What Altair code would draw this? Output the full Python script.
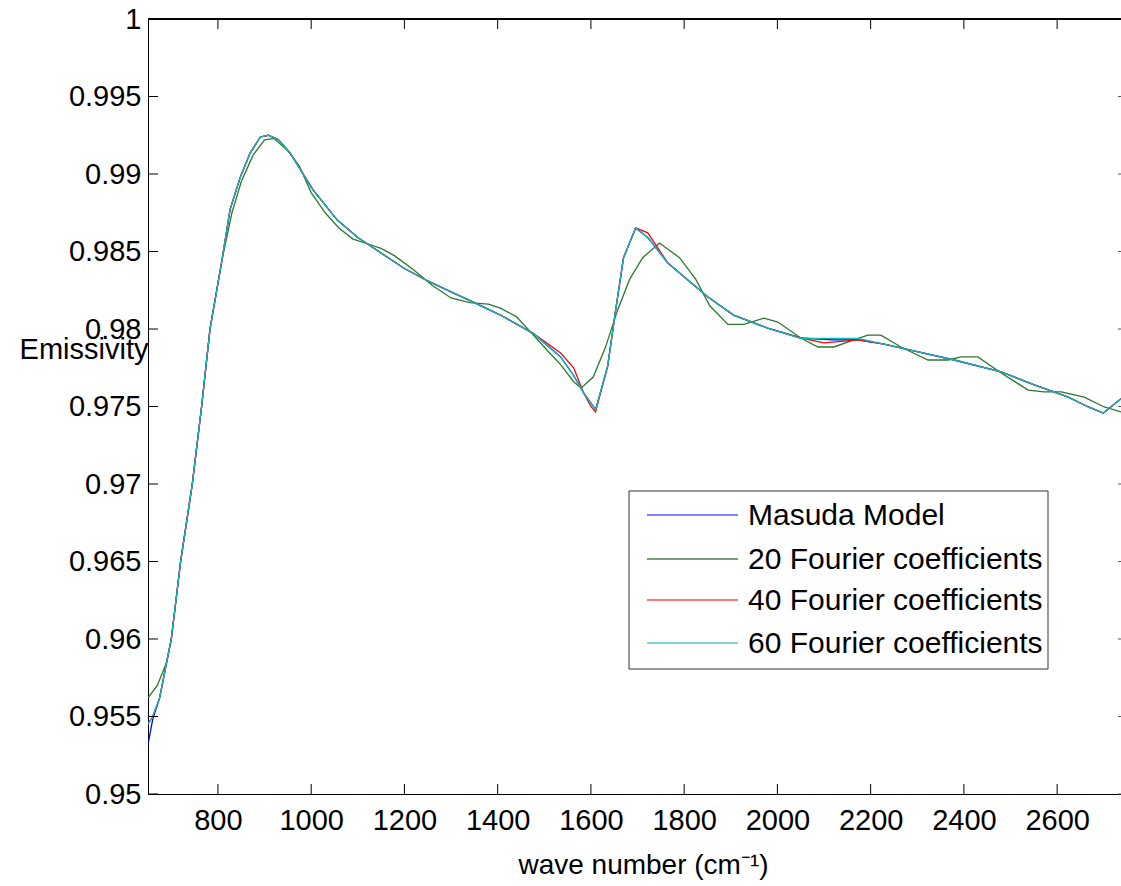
import altair as alt
import pandas as pd

# ---- data ----
masuda_x = [650, 660, 675, 690, 700, 720, 745, 765, 783, 809, 826, 848, 869, 891, 908, 930, 955,
            1004, 1056, 1100, 1150, 1200, 1250, 1300, 1350, 1406, 1477, 1535, 1563, 1584, 1610,
            1636, 1653, 1670, 1696, 1722, 1765, 1808, 1851, 1906, 1979, 2050, 2120, 2173, 2229,
            2302, 2379, 2480, 2551, 2624, 2667, 2699, 2737]
masuda_y = [0.9532, 0.9548, 0.9562, 0.9585, 0.9600, 0.9650, 0.9700, 0.9750, 0.9800, 0.9845, 0.9877,
            0.9898, 0.99135, 0.99239, 0.9925, 0.9922, 0.99135, 0.98897, 0.98703, 0.9859, 0.9849,
            0.9839, 0.9831, 0.9824, 0.9817, 0.9809, 0.9797, 0.9782, 0.9770, 0.9759, 0.9748,
            0.9776, 0.9812, 0.9846, 0.98652, 0.9859, 0.98426, 0.98316, 0.98206, 0.9809, 0.98006,
            0.97942, 0.9793, 0.9793, 0.97903, 0.97852, 0.9780, 0.97723, 0.9764, 0.97561, 0.97497,
            0.97458, 0.9755]

f20_x = [650, 670, 690, 700, 720, 745, 765, 783, 809, 830, 850, 875, 900, 920, 950, 975, 1000,
         1030, 1060, 1090, 1120, 1150, 1180, 1220, 1260, 1300, 1340, 1380, 1406, 1440, 1477, 1510,
         1535, 1563, 1579, 1605, 1631, 1657, 1683, 1711, 1747, 1790, 1825, 1855, 1894, 1928, 1971,
         2001, 2050, 2087, 2121, 2164, 2194, 2222, 2265, 2323, 2366, 2394, 2430, 2480, 2538, 2572,
         2609, 2658, 2701, 2737]
f20_y = [0.9562, 0.9570, 0.9585, 0.9600, 0.9650, 0.9700, 0.9750, 0.9800, 0.9845, 0.9875, 0.9895,
         0.9912, 0.9922, 0.9923, 0.9915, 0.9905, 0.9888, 0.9875, 0.9865, 0.9858, 0.9855, 0.9852,
         0.9847, 0.9838, 0.9828, 0.9820, 0.9817, 0.9816, 0.98135, 0.9808, 0.9796, 0.9785, 0.9777,
         0.9766, 0.9762, 0.9769, 0.9788, 0.9812, 0.9832, 0.9846, 0.98555, 0.9846, 0.9832, 0.9815,
         0.9803, 0.9803, 0.9807, 0.98045, 0.97942, 0.97884, 0.97884, 0.9793, 0.9796, 0.9796,
         0.97884, 0.9780, 0.9780, 0.9782, 0.9782, 0.97716, 0.97606, 0.97594, 0.97594, 0.97561,
         0.97497, 0.97465]

f40_x = [650, 660, 675, 690, 700, 720, 745, 765, 783, 809, 826, 848, 869, 891, 908, 930, 955,
         1004, 1056, 1100, 1150, 1200, 1250, 1300, 1350, 1406, 1477, 1535, 1563, 1584, 1600, 1610,
         1636, 1653, 1670, 1696, 1722, 1765, 1808, 1851, 1906, 1979, 2050, 2100, 2173, 2229,
         2302, 2379, 2480, 2551, 2624, 2667, 2699, 2737]
f40_y = [0.9545, 0.9550, 0.9562, 0.9585, 0.9600, 0.9650, 0.9700, 0.9750, 0.9800, 0.9845, 0.9877,
         0.9898, 0.99135, 0.99239, 0.9925, 0.9922, 0.99135, 0.98897, 0.98703, 0.9859, 0.9849,
         0.9839, 0.9831, 0.9824, 0.9817, 0.9809, 0.9797, 0.97845, 0.9775, 0.9759, 0.9750, 0.97465,
         0.9776, 0.9812, 0.9846, 0.98652, 0.9862, 0.98426, 0.98316, 0.98206, 0.9809, 0.98006,
         0.97942, 0.9791, 0.9793, 0.97903, 0.97852, 0.9780, 0.97723, 0.9764, 0.97561, 0.97497,
         0.97458, 0.9755]

f60_x = [650, 660, 675, 690, 700, 720, 745, 765, 783, 809, 826, 848, 869, 891, 908, 930, 955,
         1004, 1056, 1100, 1150, 1200, 1250, 1300, 1350, 1406, 1477, 1535, 1563, 1584, 1610,
         1636, 1653, 1670, 1696, 1722, 1765, 1808, 1851, 1906, 1979, 2050, 2173, 2229,
         2302, 2379, 2480, 2551, 2624, 2667, 2699, 2737]
f60_y = [0.9545, 0.9550, 0.9562, 0.9585, 0.9600, 0.9650, 0.9700, 0.9750, 0.9800, 0.9845, 0.9877,
         0.9898, 0.99135, 0.99239, 0.9925, 0.9922, 0.99135, 0.98897, 0.98703, 0.9859, 0.9849,
         0.9839, 0.9831, 0.9824, 0.9817, 0.9809, 0.9797, 0.9782, 0.9770, 0.9759, 0.9748,
         0.9776, 0.9812, 0.9846, 0.98652, 0.9859, 0.98426, 0.98316, 0.98206, 0.9809, 0.98006,
         0.9794, 0.9794, 0.97903, 0.97852, 0.9780, 0.97723, 0.9764, 0.97561, 0.97497,
         0.97458, 0.9755]

series_names = ["Masuda Model", "20 Fourier coefficients",
                "40 Fourier coefficients", "60 Fourier coefficients"]
series_colors = ["#0000ff", "#2a7a2a", "#ff0000", "#00bfbf"]
legend_swatch_colors = ["#5a5aff", "#4a7f4a", "#ff4a4a", "#5cc4c4"]

x_ticks = [800, 1000, 1200, 1400, 1600, 1800, 2000, 2200, 2400, 2600]
y_ticks = [0.95, 0.955, 0.96, 0.965, 0.97, 0.975, 0.98, 0.985, 0.99, 0.995, 1.0]

# ---- build table ----
rows = []
for name, xs, ys in zip(series_names, [masuda_x, f20_x, f40_x, f60_x],
                        [masuda_y, f20_y, f40_y, f60_y]):
    for i, (a, b) in enumerate(zip(xs, ys)):
        rows.append({"series": name, "wn": a, "em": b, "i": i})
df = pd.DataFrame(rows)

W, H = 973, 775
FONT = "Liberation Sans"

xscale = alt.Scale(domain=[650, 2737], nice=False, zero=False)
yscale = alt.Scale(domain=[0.95, 1.0], nice=False, zero=False)

x_axis = alt.Axis(values=x_ticks, format="d", title="wave number (cm\u207b\u00b9)",
                  ticks=False, grid=False, domainColor="black", domainWidth=1,
                  labelFont=FONT, labelFontSize=29, labelColor="black", labelPadding=12,
                  titleFont=FONT, titleFontSize=28, titleFontWeight="normal", titleColor="black",
                  titleX=495, titleY=79, titleAlign="center", titleBaseline="alphabetic",
                  labelFlush=False, labelOverlap=False)
y_axis = alt.Axis(values=y_ticks, format=".3~f", title="Emissivity",
                  ticks=False, grid=False, domainColor="black", domainWidth=1,
                  labelFont=FONT, labelFontSize=29, labelColor="black", labelPadding=7,
                  titleFont=FONT, titleFontSize=29, titleFontWeight="normal", titleColor="black",
                  titleAngle=0, titleAlign="right", titleX=0, titleY=339,
                  titleBaseline="alphabetic", labelFlush=False, labelOverlap=False)

lines = alt.Chart(df).mark_line(strokeWidth=1.3, clip=True).encode(
    x=alt.X("wn:Q", scale=xscale, axis=x_axis),
    y=alt.Y("em:Q", scale=yscale, axis=y_axis),
    color=alt.Color("series:N",
                    scale=alt.Scale(domain=series_names, range=series_colors),
                    legend=None),
    order="i:Q",
)

xt = pd.DataFrame({"t": x_ticks})
yt = pd.DataFrame({"t": y_ticks})

bottom_ticks = alt.Chart(xt).mark_rule(color="black", strokeWidth=1).encode(
    x=alt.X("t:Q", scale=xscale, axis=x_axis), y=alt.value(H), y2=alt.value(H - 10))
top_ticks = alt.Chart(xt).mark_rule(color="black", strokeWidth=1).encode(
    x=alt.X("t:Q", scale=xscale, axis=x_axis), y=alt.value(0), y2=alt.value(10))
left_ticks = alt.Chart(yt).mark_rule(color="black", strokeWidth=1).encode(
    y=alt.Y("t:Q", scale=yscale, axis=y_axis), x=alt.value(0), x2=alt.value(10))
right_ticks = alt.Chart(yt).mark_rule(color="#555555", strokeWidth=1).encode(
    y=alt.Y("t:Q", scale=yscale, axis=y_axis), x=alt.value(W - 3), x2=alt.value(W))
top_spine = alt.Chart(xt).mark_rule(color="black", strokeWidth=1).encode(
    x=alt.value(0), x2=alt.value(W), y=alt.value(0))

# ---- hand-built legend box (matlab style) ----
LX0, LX1, LY0, LY1 = 481, 900, 472, 650
row_y = [496, 540, 581, 624]
legend_layers = [
    alt.Chart(pd.DataFrame({"k": [0]})).mark_rect(
        fill="white", stroke="#333333", strokeWidth=1).encode(
        x=alt.value(LX0), x2=alt.value(LX1), y=alt.value(LY0), y2=alt.value(LY1))
]
for name, col, yc in zip(series_names, legend_swatch_colors, row_y):
    d = pd.DataFrame({"series": [name]})
    legend_layers.append(
        alt.Chart(d).mark_rule(color=col, strokeWidth=1.3).encode(
            x=alt.value(499), x2=alt.value(590), y=alt.value(yc)))
    legend_layers.append(
        alt.Chart(d).mark_text(font=FONT, fontSize=30, color="black", align="left",
                               baseline="middle").encode(
            text="series:N", x=alt.value(600), y=alt.value(yc + 1)))

chart = alt.layer(lines, bottom_ticks, top_ticks, left_ticks, right_ticks, top_spine,
                  *legend_layers).properties(
    width=W, height=H, autosize="none",
    padding={"left": 148, "top": 19, "right": 0, "bottom": 92},
    background="white",
).configure_view(stroke=None)

chart.save("out.html", embed_options={"renderer": "svg", "actions": False})
